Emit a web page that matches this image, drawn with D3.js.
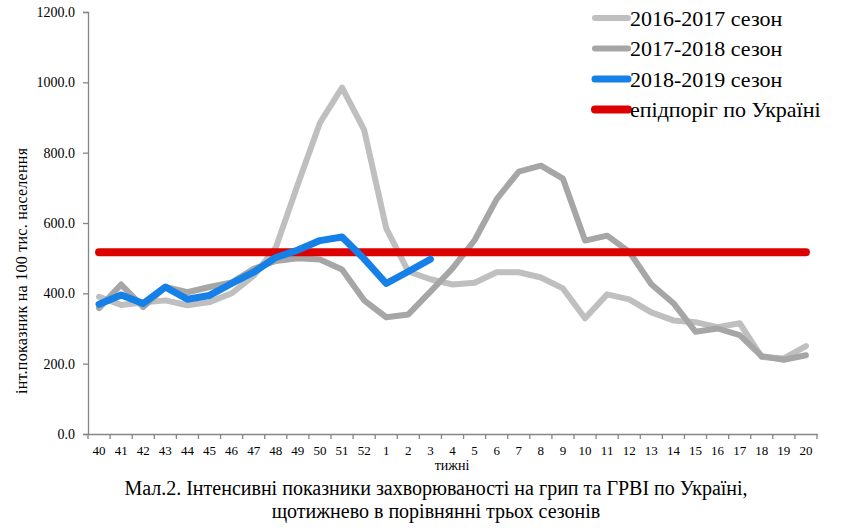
<!DOCTYPE html>
<html>
<head>
<meta charset="utf-8">
<script src="https://cdn.jsdelivr.net/npm/d3@7"></script>
<style>
  body { margin: 0; background: #fff; }
  svg { display: block; }
  .serif { font-family: "Liberation Serif", "Times New Roman", Times, "DejaVu Serif", serif; }
</style>
</head>
<body>
<div id="chart"></div>
<script>
// weeks of the season (40..52, then 1..20)
var weeks = ["40","41","42","43","44","45","46","47","48","49","50","51","52",
             "1","2","3","4","5","6","7","8","9","10","11","12","13","14","15","16","17","18","19","20"];

var season1617 = [390,367,374,380,366,375,400,450,530,710,885,985,865,
                  585,462,440,425,430,460,460,445,414,329,397,383,346,323,318,304,315,219,215,250];
var season1718 = [358,425,361,418,403,418,431,470,492,500,496,468,380,
                  332,340,405,471,551,668,746,763,726,550,564,518,426,372,291,300,281,221,211,224];
var season1819 = [369,395,371,418,383,394,428,460,502,523,550,560,498,
                  428,462,497];
var epiThreshold = 517;

var yTicks = [0, 200, 400, 600, 800, 1000, 1200];

var series = [
  { name: "2016-2017 сезон", values: season1617, color: "#bfbfbf", width: 6 },
  { name: "2017-2018 сезон", values: season1718, color: "#a6a6a6", width: 6 },
  { name: "2018-2019 сезон", values: season1819, color: "#1580e8", width: 7 }
];

var width = 857,
    height = 531;

var margin = { top: 12, right: 40, bottom: 97, left: 88 };

var svg = d3.select("#chart").append("svg")
    .attr("width", width)
    .attr("height", height);

var x = d3.scaleBand()
    .domain(weeks)
    .range([margin.left, width - margin.right])
    .padding(0);

var y = d3.scaleLinear()
    .domain([0, 1200])
    .range([height - margin.bottom, margin.top]);

var cx = function(w) { return x(w) + x.bandwidth() / 2; };

// y axis
var yAxis = svg.append("g")
    .attr("transform", "translate(" + margin.left + ",0)")
    .call(d3.axisLeft(y).tickValues(yTicks).tickFormat(d3.format(".1f")).tickSize(5).tickPadding(8));

yAxis.attr("font-family", null).attr("class", "serif");
yAxis.select(".domain").attr("stroke", "#868686").attr("stroke-width", 1.3);
yAxis.selectAll(".tick line").attr("stroke", "#868686").attr("stroke-width", 1.3);
yAxis.selectAll("text")
    .attr("fill", "#000")
    .attr("font-size", 14);

// x axis (labels at centres, ticks at the band edges)
var xAxis = svg.append("g")
    .attr("transform", "translate(0," + y(0) + ")")
    .call(d3.axisBottom(x).tickSize(0).tickPadding(12));

xAxis.attr("font-family", null).attr("class", "serif");
xAxis.select(".domain").attr("stroke", "#868686").attr("stroke-width", 1.3);
xAxis.selectAll("text")
    .attr("fill", "#000")
    .attr("font-size", 13);

xAxis.selectAll("line.edge")
    .data(weeks.concat(["end"]))
  .enter().append("line")
    .attr("class", "edge")
    .attr("x1", function(d) { return d === "end" ? x.range()[1] : x(d); })
    .attr("x2", function(d) { return d === "end" ? x.range()[1] : x(d); })
    .attr("y1", 0)
    .attr("y2", 5)
    .attr("stroke", "#868686")
    .attr("stroke-width", 1.3);

// series lines
var line = d3.line()
    .x(function(d, i) { return cx(weeks[i]); })
    .y(function(d) { return y(d); });

svg.selectAll("path.season")
    .data(series)
  .enter().append("path")
    .attr("class", "season")
    .attr("d", function(d) { return line(d.values); })
    .attr("fill", "none")
    .attr("stroke", function(d) { return d.color; })
    .attr("stroke-width", function(d) { return d.width; })
    .attr("stroke-linejoin", "round")
    .attr("stroke-linecap", "round");

// epidemic threshold, over the grey seasons
svg.append("line")
    .attr("x1", cx(weeks[0]))
    .attr("x2", cx(weeks[weeks.length - 1]))
    .attr("y1", y(epiThreshold))
    .attr("y2", y(epiThreshold))
    .attr("stroke", "#dd0000")
    .attr("stroke-width", 8)
    .attr("stroke-linecap", "round");

// blue season sits above the red line
svg.selectAll("path.season").filter(function(d, i) { return i === 2; }).raise();

// legend
var legendItems = series.map(function(s) { return { name: s.name, color: s.color, width: s.width }; })
    .concat([{ name: "епідпоріг по Україні", color: "#dd0000", width: 8 }]);

var legend = svg.append("g").attr("transform", "translate(593,18)");

var item = legend.selectAll("g")
    .data(legendItems)
  .enter().append("g")
    .attr("transform", function(d, i) { return "translate(0," + i * 30.5 + ")"; });

item.append("line")
    .attr("x1", 2).attr("x2", 35)
    .attr("stroke", function(d) { return d.color; })
    .attr("stroke-width", function(d) { return d.width; })
    .attr("stroke-linecap", "round");

item.append("text")
    .attr("class", "serif")
    .attr("x", 37)
    .attr("dy", "0.35em")
    .attr("font-size", 22)
    .text(function(d) { return d.name; });

// axis titles
svg.append("text")
    .attr("class", "serif")
    .attr("transform", "translate(27,271) rotate(-90)")
    .attr("text-anchor", "middle")
    .attr("font-size", 16)
    .attr("textLength", 246)
    .attr("lengthAdjust", "spacing")
    .text("інт.показник на 100 тис. населення");

svg.append("text")
    .attr("class", "serif")
    .attr("x", 452)
    .attr("y", 470)
    .attr("text-anchor", "middle")
    .attr("font-size", 14)
    .text("тижні");

// caption
var caption = svg.append("text")
    .attr("class", "serif")
    .attr("text-anchor", "middle")
    .attr("font-size", 20);

caption.append("tspan")
    .attr("x", 436).attr("y", 495)
    .text("Мал.2. Інтенсивні показники захворюваності на грип та ГРВІ по Україні,");
caption.append("tspan")
    .attr("x", 436).attr("y", 518)
    .text("щотижнево в порівнянні трьох сезонів");
</script>
</body>
</html>
